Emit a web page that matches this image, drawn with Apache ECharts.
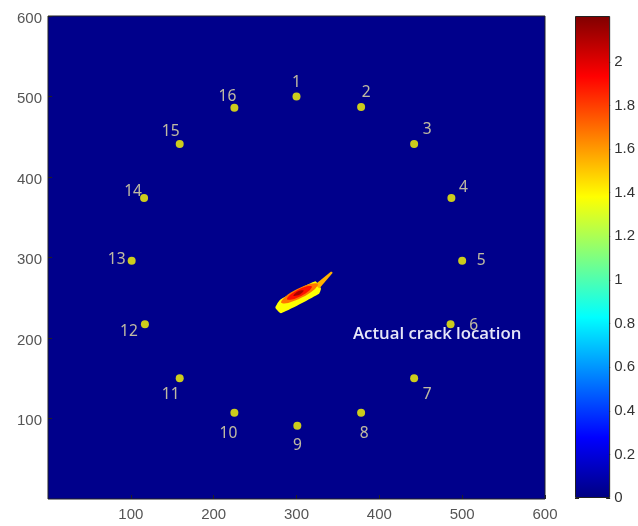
<!DOCTYPE html>
<html>
<head>
<meta charset="utf-8">
<script src="https://cdn.jsdelivr.net/npm/echarts@6/dist/echarts.min.js"></script>
<style>html,body{margin:0;padding:0;background:#fff;}#c{width:638px;height:526px;}</style>
</head>
<body>
<div id="c"></div>
<script>
// ---- data ----
const sensorIds = ['1','2','3','4','5','6','7','8','9','10','11','12','13','14','15','16'];
const sensorX = [300, 378, 442, 487, 500, 486, 442, 378, 301, 225, 159, 117, 101, 116, 159, 225];
const sensorY = [500, 487, 441, 374, 296, 217, 150, 107, 91, 107, 150, 217, 296, 374, 441, 486];
const xTicks = [0, 100, 200, 300, 400, 500, 600];
const yTicks = [0, 100, 200, 300, 400, 500, 600];
const colorbarTicks = [0, 0.2, 0.4, 0.6, 0.8, 1, 1.2, 1.4, 1.6, 1.8, 2];
const colorbarMax = 2.21;
// crack region levels and outlines (data coordinates)
const crackLevels = [1.38, 1.55, 1.68, 1.9, 2.12];
const crackOutline = [[274.5,237.5],[281.3,230.8],[327.2,255.0],[329.5,261.5],[322.6,270.4],[280.3,247.4]];
const crackTip = [[322.5,266.5],[341.8,282.5],[343.8,281],[327.5,261.5]];
const crackOrange = [[325.7,267.2],[317.2,267.5],[300.8,260.8],[286.0,251.0],[281.5,243.9],[290.0,243.5],[306.4,250.2],[321.2,260.0]];
const crackRed = [[318.6,263.9],[312.8,264.2],[301.6,259.7],[291.6,253.0],[288.6,248.1],[294.4,247.8],[305.6,252.3],[315.6,259.0]];
const crackCore = [[308.7,259.1],[301.4,257.9],[296.3,252.5],[303.6,253.7]];
const crackShapes = [crackOutline, crackTip, crackOrange, crackRed, crackCore];
const annotationText = 'Actual crack location';

// ---- styles ----
const labelOffsets = [[0,-14],[5,-14],[13,-14],[12,-10],[19,0],[23,1],[13,16],[3,21],[0,20],[-6,21],[-9,16],[-16,7],[-15,-1],[-11,-6],[-9,-12],[-7,-11]];
const jet = ['#000080','#0000ff','#00ffff','#ffff00','#ff0000','#800000'];
const jetOffsets = [0, 0.125, 0.375, 0.625, 0.875, 1];
const jetPalette = ['#000080','#0000ff','#0080ff','#00ffff','#80ff80','#ffff00','#ff8000','#ff0000','#800000'];
const shapeSmooth = [0.15, 0, 0.35, 0.35, 0.35];

const chart = echarts.init(document.getElementById('c'), null, {renderer: 'canvas'});

const sensorData = sensorIds.map((id, i) => ({
  value: [sensorX[i], sensorY[i], id],
  label: {offset: labelOffsets[i]}
}));

const crackData = crackLevels.map((v, i) => [v, i]);

const axisLabelStyle = {color: '#555', fontSize: 15, fontFamily: 'Liberation Sans, Arial, sans-serif'};

chart.setOption({
  backgroundColor: '#ffffff',
  animation: false,
  grid: [
    {left: 48, right: 93, top: 16, bottom: 27, show: true, backgroundColor: '#00008b', borderColor: '#222', borderWidth: 1},
    {left: 575, right: 26, top: 16, bottom: 28, show: false}
  ],
  xAxis: [
    {type: 'value', gridIndex: 0, min: xTicks[0], max: xTicks[xTicks.length-1], interval: 100,
     axisLine: {show: false}, splitLine: {show: false},
     axisTick: {show: true, inside: true, length: 4, lineStyle: {color: '#222'}},
     axisLabel: Object.assign({showMinLabel: false, margin: 8}, axisLabelStyle)},
    {type: 'category', gridIndex: 1, data: ['c'], show: false}
  ],
  yAxis: [
    {type: 'value', gridIndex: 0, min: yTicks[0], max: yTicks[yTicks.length-1], interval: 100,
     axisLine: {show: false}, splitLine: {show: false},
     axisTick: {show: true, inside: true, length: 4, lineStyle: {color: '#222'}},
     axisLabel: Object.assign({showMinLabel: false, margin: 6, verticalAlign: 'top', padding: [-5,0,0,0]}, axisLabelStyle)},
    {type: 'value', gridIndex: 1, position: 'right', min: 0, max: colorbarMax,
     axisLine: {show: false}, splitLine: {show: false},
     axisTick: {show: true, inside: true, length: 4, customValues: colorbarTicks, lineStyle: {color: '#222'}},
     axisLabel: {customValues: colorbarTicks, margin: 4, color: '#333', fontSize: 15, fontFamily: 'Liberation Sans, Arial, sans-serif'}},
    {type: 'value', gridIndex: 1, position: 'left', min: 0, max: colorbarMax,
     axisLine: {show: false}, splitLine: {show: false},
     axisTick: {show: true, inside: true, length: 4, customValues: colorbarTicks, lineStyle: {color: '#222'}},
     axisLabel: {show: false}}
  ],
  visualMap: {
    show: false, type: 'continuous', min: 0, max: colorbarMax, seriesIndex: 0, dimension: 0,
    inRange: {color: jetPalette}
  },
  series: [
    {
      type: 'custom', xAxisIndex: 0, yAxisIndex: 0,
      data: crackData,
      renderItem: function (params, api) {
        const idx = api.value(1);
        const pts = crackShapes[idx].map(p => api.coord(p));
        return {
          type: 'polygon',
          shape: {points: pts, smooth: shapeSmooth[idx]},
          style: {fill: api.visual('color'), stroke: null}
        };
      },
      z: 2
    },
    {
      type: 'scatter', xAxisIndex: 0, yAxisIndex: 0,
      symbol: 'circle', symbolSize: 8,
      itemStyle: {color: '#ffff00'},
      data: sensorData,
      label: {show: true, position: 'inside', formatter: p => p.value[2],
              color: '#efe9a8', fontSize: 15.5, fontFamily: 'Noto Sans, Open Sans, sans-serif'},
      z: 3
    },
    {
      type: 'bar', xAxisIndex: 1, yAxisIndex: 1, barWidth: '100%',
      data: [colorbarMax],
      itemStyle: {
        borderColor: '#222', borderWidth: 1,
        color: new echarts.graphic.LinearGradient(0, 1, 0, 0, jet.map((c, i) => ({offset: jetOffsets[i], color: c})))
      },
      silent: true
    }
  ],
  graphic: [
    {type: 'text', left: 353, top: 326, z: 10,
     style: {text: annotationText, fill: '#e6e6f8', font: '600 16.8px "Open Sans", sans-serif'}}
  ]
});
</script>
</body>
</html>
